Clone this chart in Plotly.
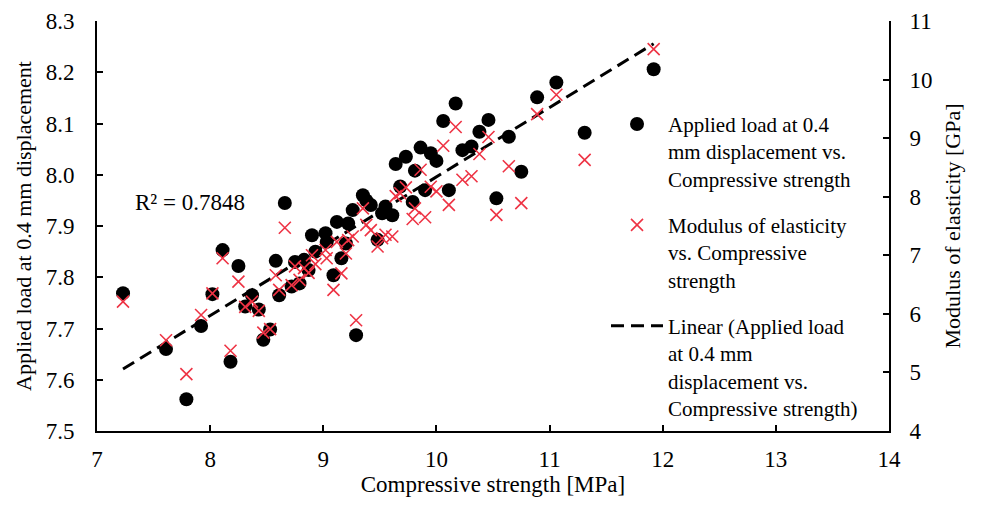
import numpy as np
import plotly.graph_objects as go

# Compressive strength [MPa]
strength = [7.23, 7.61, 7.79, 7.92, 8.02, 8.11, 8.18, 8.25, 8.31, 8.37, 8.43, 8.47, 8.53,
            8.58, 8.61, 8.66, 8.72, 8.75, 8.79, 8.83, 8.87, 8.90, 8.93, 9.02, 9.03, 9.09,
            9.12, 9.16, 9.20, 9.22, 9.26, 9.29, 9.35, 9.38, 9.42, 9.48, 9.52, 9.55, 9.61,
            9.64, 9.68, 9.73, 9.79, 9.81, 9.86, 9.90, 9.95, 10.00, 10.06, 10.11, 10.17,
            10.23, 10.31, 10.38, 10.46, 10.53, 10.64, 10.75, 10.89, 11.06, 11.31, 11.92]
# Applied load at 0.4 mm displacement (left axis)
load = [7.769, 7.660, 7.562, 7.705, 7.767, 7.853, 7.635, 7.822, 7.743, 7.765, 7.737, 7.678, 7.698,
        7.832, 7.765, 7.945, 7.782, 7.830, 7.788, 7.834, 7.814, 7.882, 7.850, 7.886, 7.869, 7.804,
        7.908, 7.837, 7.866, 7.905, 7.931, 7.687, 7.960, 7.950, 7.941, 7.873, 7.925, 7.938, 7.921,
        8.021, 7.977, 8.035, 7.947, 8.008, 8.053, 7.970, 8.042, 8.027, 8.105, 7.970, 8.139,
        8.048, 8.055, 8.084, 8.107, 7.954, 8.074, 8.006, 8.151, 8.180, 8.082, 8.206]
# Modulus of elasticity [GPa] (right axis)
modulus = [6.21, 5.55, 4.97, 5.98, 6.35, 6.95, 5.37, 6.55, 6.12, 6.21, 6.05, 5.68, 5.74,
           6.66, 6.41, 7.47, 6.49, 6.81, 6.58, 6.78, 6.70, 7.00, 6.85, 7.09, 6.95, 6.41,
           7.23, 6.69, 7.03, 7.26, 7.32, 5.89, 7.80, 7.52, 7.43, 7.15, 7.29, 7.35, 7.32,
           8.01, 8.06, 8.16, 7.62, 7.80, 8.46, 7.65, 8.17, 8.09, 8.87, 7.86, 9.19,
           8.29, 8.35, 8.73, 9.02, 7.69, 8.52, 7.89, 9.41, 9.74, 8.63, 10.52]

x_ticks = [7, 8, 9, 10, 11, 12, 13, 14]
y_left_ticks = [7.5, 7.6, 7.7, 7.8, 7.9, 8.0, 8.1, 8.2, 8.3]
y_right_ticks = [4, 5, 6, 7, 8, 9, 10, 11]

FONT = "Liberation Serif"
FS_TICK = 23
FS_TITLE = 22
FS_LEG = 21

slope, intercept = np.polyfit(strength, load, 1)
xs = np.array([min(strength), max(strength)])
ys = slope * xs + intercept

fig = go.Figure()
fig.add_trace(go.Scatter(
    x=strength, y=load, mode="markers", yaxis="y", legendgroup="a",
    marker=dict(symbol="circle", size=14, color="black"),
    name="Applied load at 0.4<br>mm displacement vs.<br>Compressive strength"))
fig.add_trace(go.Scatter(
    x=strength, y=modulus, mode="markers", yaxis="y2", legendgroup="b",
    marker=dict(symbol="x-thin", size=12, color="#ee3344",
                line=dict(color="#ee3344", width=1.6)),
    name="Modulus of elasticity<br>vs. Compressive<br>strength"))
fig.add_trace(go.Scatter(
    x=xs, y=ys, mode="lines", yaxis="y", legendgroup="c",
    line=dict(color="black", width=3, dash="13px,7px"),
    name="Linear (Applied load<br>at 0.4 mm<br>displacement vs.<br>Compressive strength)"))

fig.add_annotation(x=7.32, y=7.945, xref="x", yref="y", text="R² = 0.7848",
                   showarrow=False, xanchor="left", font=dict(family=FONT, size=23, color="black"))

axis_common = dict(showgrid=False, zeroline=False, showline=True, linecolor="black", linewidth=2,
                   ticks="inside", ticklen=6, tickwidth=1.5, tickcolor="black", automargin=False,
                   tickfont=dict(family=FONT, size=FS_TICK, color="black"))

fig.update_layout(
    width=968, height=493,
    margin=dict(l=89, r=87, t=13, b=70),
    plot_bgcolor="white", paper_bgcolor="white",
    font=dict(family=FONT, size=FS_TICK, color="black"),
    xaxis=dict(range=[7, 14], tickvals=x_ticks, ticktext=[str(v) for v in x_ticks],
               ticklabelstandoff=6,
               title=dict(text="Compressive strength [MPa]", font=dict(family=FONT, size=23), standoff=2),
               **axis_common),
    yaxis=dict(range=[7.5, 8.3], tickvals=y_left_ticks, ticktext=[f"{v:.1f}" for v in y_left_ticks],
               ticklabelstandoff=16,
               title=dict(text="Applied load at 0.4 mm displacement", font=dict(family=FONT, size=FS_TITLE), standoff=8),
               **axis_common),
    yaxis2=dict(range=[4, 11], tickvals=y_right_ticks, ticktext=[str(v) for v in y_right_ticks],
                overlaying="y", side="right", ticklabelstandoff=14,
                title=dict(text="Modulus of elasticity [GPa]", font=dict(family=FONT, size=FS_TITLE), standoff=13),
                **axis_common),
    legend=dict(x=0.6427, y=0.798, xanchor="left", yanchor="top", bgcolor="rgba(0,0,0,0)",
                font=dict(family=FONT, size=FS_LEG, color="black"), tracegroupgap=16, itemwidth=52,
                valign="top"),
    showlegend=True,
)

fig.write_html("out.html")
